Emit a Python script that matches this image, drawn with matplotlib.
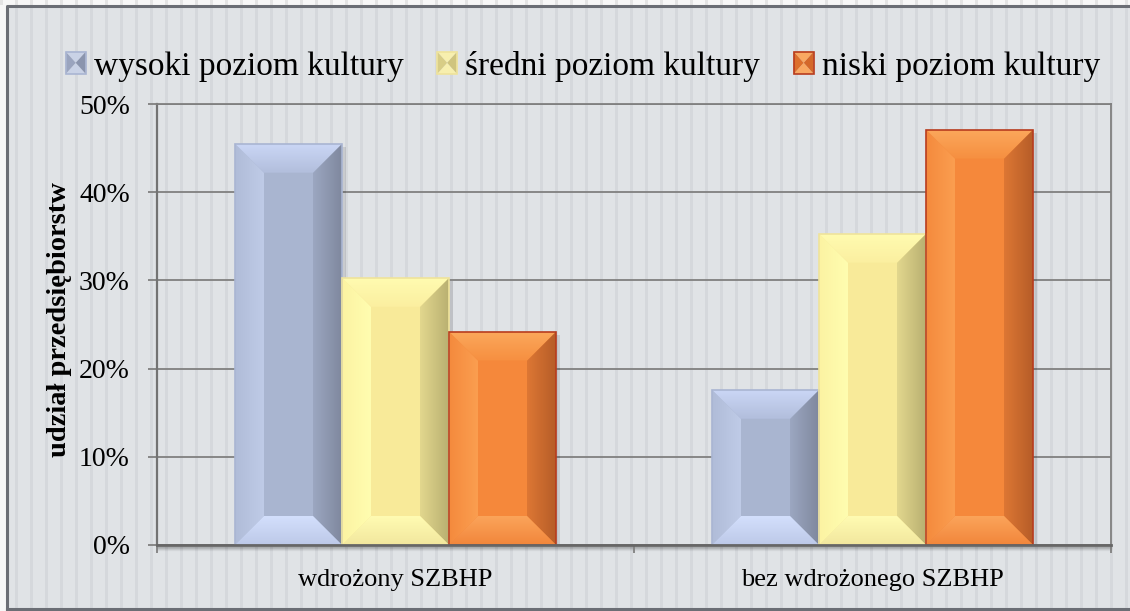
import numpy as np
import matplotlib
matplotlib.use('Agg')
import matplotlib.pyplot as plt
from matplotlib.patches import Polygon, Rectangle
from matplotlib.legend_handler import HandlerBase
from matplotlib.colors import to_rgb

# ---------------- data ----------------
categories = ['wdrożony SZBHP', 'bez wdrożonego SZBHP']
series_names = ['wysoki poziom kultury', 'średni poziom kultury', 'niski poziom kultury']
wysoki = [45.5, 17.6]
sredni = [30.3, 35.3]
niski = [24.2, 47.1]
yticks = [0, 10, 20, 30, 40, 50]
ylabel = 'udział przedsiębiorstw'

# ---------------- style ----------------
plt.rcParams['font.family'] = ['Liberation Serif', 'DejaVu Serif']

palettes = [
    dict(face='#a9b5d0', top=('#cad6f5', '#b2bedc'), bottom=('#bdc9e8', '#d3dffc'),
         left=('#b0bcd8', '#bfcbe7'), right=('#9ca7c1', '#7f889e'), edge='#a9b5d2',
         key=('#c9d2e6', '#9aa4be', '#8b95ae')),
    dict(face='#f8ea99', top=('#fffbb0', '#fbefa0'), bottom=('#f2e79e', '#fffbb2'),
         left=('#fcf3a2', '#fffdb0'), right=('#e2d78e', '#b9b071'), edge='#efe39b',
         key=('#f7efae', '#d8cd86', '#cfc47e')),
    dict(face='#f5883b', top=('#fba75b', '#f68f40'), bottom=('#f2863b', '#fba45a'),
         left=('#f48a3d', '#fb9e50'), right=('#dd7734', '#b65d28'), edge='#b83c1e',
         key=('#f9a862', '#dd6f2c', '#d4682a')),
]

W, H = 1130, 611
fig = plt.figure(figsize=(W / 100, H / 100), dpi=100)

# ---------------- striped background ----------------
base = np.array([0xe0, 0xe3, 0xe6]) / 255.0
dark = np.array([0xd5, 0xd8, 0xdc]) / 255.0
white = np.array([0xf7, 0xf7, 0xf7]) / 255.0
wdark = np.array([0xe4, 0xe4, 0xe4]) / 255.0
img = np.empty((H, W, 3))
img[:] = base
cols = np.arange(W)
stripe = (cols % 15) < 3
img[:, stripe] = dark
img[:5, :] = white
img[:, :7] = white
img[:5, stripe] = wdark
bgax = fig.add_axes([0, 0, 1, 1], zorder=-10)
bgax.imshow(img, extent=[0, W, H, 0], aspect='auto', interpolation='nearest')
bgax.set_xlim(0, W)
bgax.set_ylim(H, 0)
bgax.axis('off')
bgax.plot([7, 7, W + 5], [H + 5, 5.5, 5.5], color='#6b6e75', lw=2.2, solid_capstyle='butt')
bgax.plot([7, W + 5], [609, 609], color='#6b6e75', lw=2.2)

# ---------------- main axes ----------------
ax_l, ax_r, ax_t, ax_b = 157, 1111, 104, 545
ax = fig.add_axes([ax_l / W, (H - ax_b) / H, (ax_r - ax_l) / W, (ax_b - ax_t) / H])
ax.set_facecolor('none')
XL, YL = (-0.5, 1.5), (0, 50)
ax.set_xlim(*XL)
ax.set_ylim(*YL)

px_per_x = (ax_r - ax_l) / 2.0
px_per_y = (ax_b - ax_t) / 50.0
bw = 107 / px_per_x
bx = 29 / px_per_x
by = 29 / px_per_y
sx = 4 / px_per_x
sy = 3 / px_per_y


def grad_fill(pts, c0, c1, vertical, extent, z):
    """Fill polygon pts with a linear gradient c0 -> c1 (left->right or bottom->top)."""
    a, b = np.array(to_rgb(c0)), np.array(to_rgb(c1))
    t = np.linspace(0, 1, 64)
    g = a[None, :] * (1 - t[:, None]) + b[None, :] * t[:, None]
    if vertical:
        im = g[:, None, :]          # rows = y (origin lower)
    else:
        im = g[None, :, :]          # cols = x
    poly = Polygon(pts, closed=True, facecolor='none', edgecolor='none',
                   transform=ax.transData)
    ax.add_patch(poly)
    art = ax.imshow(im, extent=extent, origin='lower', aspect='auto',
                    interpolation='bilinear', zorder=z)
    art.set_clip_path(poly)


x = np.arange(len(categories))
series = [wysoki, sredni, niski]
offsets = [-bw, 0, bw]

for vals, off, pal in zip(series, offsets, palettes):
    bars = ax.bar(x + off, vals, width=bw, color=pal['face'], edgecolor='none',
                  linewidth=0, zorder=3)
    for r in bars:
        x0, x1 = r.get_x(), r.get_x() + r.get_width()
        y0, y1 = 0, r.get_height()
        ax.add_patch(Rectangle((x0 + sx, y0), x1 - x0, y1 - sy, facecolor='#000000',
                               alpha=0.10, linewidth=0, zorder=2.5))
        grad_fill([(x0, y1), (x1, y1), (x1 - bx, y1 - by), (x0 + bx, y1 - by)],
                  pal['top'][1], pal['top'][0], True, [x0, x1, y1 - by, y1], 3.5)
        grad_fill([(x0, y0), (x1, y0), (x1 - bx, y0 + by), (x0 + bx, y0 + by)],
                  pal['bottom'][0], pal['bottom'][1], True, [x0, x1, y0, y0 + by], 3.5)
        grad_fill([(x0, y0), (x0 + bx, y0 + by), (x0 + bx, y1 - by), (x0, y1)],
                  pal['left'][0], pal['left'][1], False, [x0, x0 + bx, y0, y1], 3.4)
        grad_fill([(x1, y0), (x1 - bx, y0 + by), (x1 - bx, y1 - by), (x1, y1)],
                  pal['right'][0], pal['right'][1], False, [x1 - bx, x1, y0, y1], 3.4)
        ax.add_patch(Rectangle((x0, y0), x1 - x0, y1 - y0, facecolor='none',
                               edgecolor=pal['edge'], linewidth=1.2, zorder=3.6))

ax.set_xlim(*XL)
ax.set_ylim(*YL)

# grid & spines
ax.set_axisbelow(True)
ax.yaxis.grid(True, color='#808080', linewidth=1.3)
for side in ['top', 'right']:
    ax.spines[side].set_color('#808080')
    ax.spines[side].set_linewidth(1.3)
ax.spines['left'].set_color('#737373')
ax.spines['left'].set_linewidth(1.6)
ax.spines['bottom'].set_color('#666666')
ax.spines['bottom'].set_linewidth(2.0)
ax.spines['bottom'].set_zorder(4)

for k, a in enumerate([0.22, 0.14, 0.08, 0.04]):
    bgax.plot([ax_l, ax_r], [ax_b + 2 + k, ax_b + 2 + k], color='black', alpha=a, lw=1.0)

ax.set_yticks(yticks)
ax.set_yticklabels([f'{v}%' for v in yticks])
ax.tick_params(axis='y', direction='out', length=6.5, width=1.3, color='#808080',
               labelsize=20, pad=13, labelcolor='black')
ax.set_xticks(x)
ax.set_xticklabels(categories)
ax.tick_params(axis='x', which='major', length=0, labelsize=19, pad=17, labelcolor='black')
ax.set_xticks([-0.5, 0.5, 1.5], minor=True)
ax.tick_params(axis='x', which='minor', direction='out', length=6, width=1.3, color='#808080')

fig.text(60 / W, 1 - 320 / H, ylabel, rotation=90, ha='center', va='center',
         fontsize=20.5, fontweight='bold')

# ---------------- legend ----------------
class BevelKey:
    def __init__(self, pal):
        self.pal = pal


class BevelHandler(HandlerBase):
    def create_artists(self, legend, orig, xdescent, ydescent, width, height, fontsize, trans):
        p = orig.pal
        light, mid, drk = p['key']
        x0, y0 = -xdescent, -ydescent
        x1, y1 = x0 + width, y0 + height
        cx, cy = (x0 + x1) / 2, (y0 + y1) / 2
        arts = []
        for pts, c in [
            ([(x0, y1), (x1, y1), (cx, cy)], light),
            ([(x0, y0), (x1, y0), (cx, cy)], light),
            ([(x0, y0), (x0, y1), (cx, cy)], mid),
            ([(x1, y0), (x1, y1), (cx, cy)], drk),
        ]:
            arts.append(Polygon(pts, closed=True, facecolor=c, edgecolor='none', transform=trans))
        arts.append(Rectangle((x0, y0), width, height, facecolor='none',
                              edgecolor=p['edge'], linewidth=1.2, transform=trans))
        return arts


handles = [BevelKey(p) for p in palettes]
fig.legend(handles, series_names, handler_map={BevelKey: BevelHandler()},
           loc='center', bbox_to_anchor=(583 / W, 1 - 66 / H), ncol=3, frameon=False,
           fontsize=24, handlelength=0.6, handleheight=0.65, handletextpad=0.25,
           columnspacing=1.0, borderpad=0, borderaxespad=0)

fig.savefig('out.png', dpi=100)
